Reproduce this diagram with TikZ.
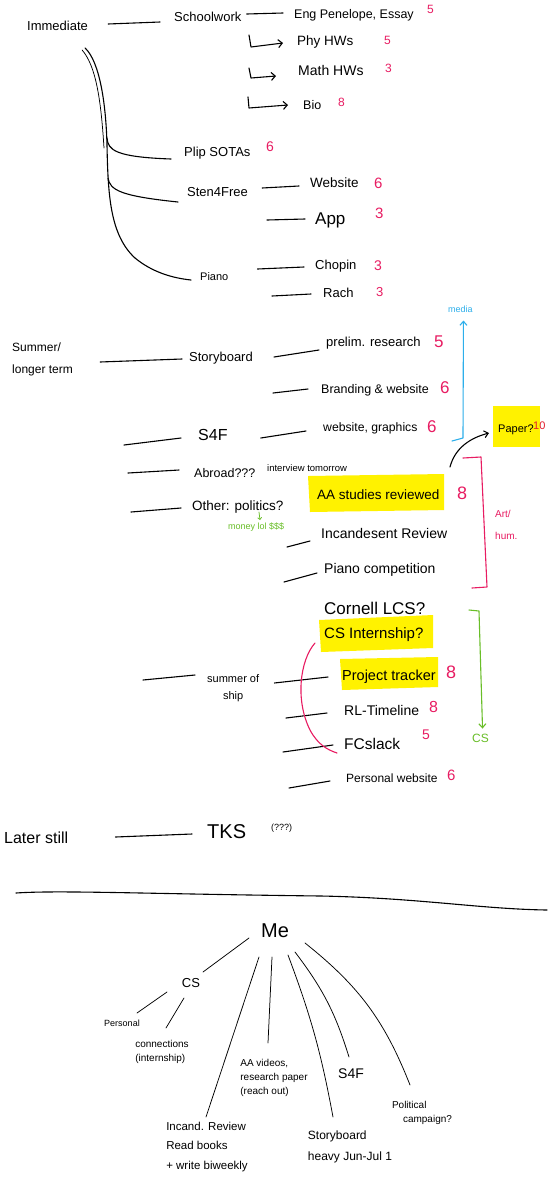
\documentclass[tikz,border=0pt]{standalone}
\usepackage{fontspec}
\setmainfont{Liberation Sans}
\usetikzlibrary{arrows.meta}
\definecolor{pk}{RGB}{232,28,98}
\definecolor{rd}{RGB}{226,30,45}
\definecolor{bl}{RGB}{45,175,235}
\definecolor{gr}{RGB}{105,190,40}
\definecolor{hl}{RGB}{255,242,0}
\begin{document}
\begin{tikzpicture}[x=1pt,y=-1pt,
  tx/.style={anchor=west,inner sep=0pt,font=\fontsize{#1}{#1}\selectfont},
  tx/.default=13,
  ct/.style={anchor=center,inner sep=0pt,font=\fontsize{#1}{#1}\selectfont},
  nm/.style={anchor=west,inner sep=0pt,text=pk,font=\fontsize{#1}{#1}\selectfont},
  nm/.default=14,
  lnk/.style={line width=1.1pt,line cap=round,line join=round},
  thn/.style={line width=0.75pt,line cap=round,line join=round},
  hk/.style={lnk,-{Straight Barb[length=4pt,width=8pt]}},
  hlb/.style={fill=hl}]
\useasboundingbox (0,0) rectangle (556,1200);
\fill[white] (0,0) rectangle (556,1200);

% ---------------- Immediate ----------------
\node[tx=13] (imm) at (27,26) {Immediate};
\node[tx=13] (school) at (174,17) {Schoolwork};
\node[tx=12.5] (eng) at (294,15) {Eng Penelope, Essay};
\node[nm=12] (n1) at (427,9) {5};
\node[tx=13.5] (phy) at (297,42) {Phy HWs};
\node[nm=12] (n2) at (384,40) {5};
\node[tx=14] (math) at (298,70) {Math HWs};
\node[nm=12] (n3) at (385,68) {3};
\node[tx=12.5] (bio) at (303,105) {Bio};
\node[nm=12] (n4) at (338,102) {8};
\node[tx=13] (plip) at (184,153) {Plip SOTAs};
\node[nm=14] (n5) at (266,147) {6};
\node[tx=13] (sten) at (187,192) {Sten4Free};
\node[tx=13.5] (web1) at (310,183) {Website};
\node[nm=15] (n6) at (374,183) {6};
\node[tx=17] (app) at (315,220) {App};
\node[nm=15] (n7) at (375,213) {3};
\node[tx=11] (piano) at (200,277) {Piano};
\node[tx=13] (chopin) at (315,266) {Chopin};
\node[nm=14] (n8) at (374,266) {3};
\node[tx=13] (rach) at (323,293) {Rach};
\node[nm=13] (n9) at (376,292) {3};

\draw[lnk] ([shift={(20,-2)}]imm.east) -- ([shift={(-14,5)}]school.west);
\draw[lnk] ([shift={(5,-3)}]school.east) -- ([shift={(-11,-2)}]eng.west);
\draw[hk] ([shift={(-48,-7)}]phy.west) -- ([shift={(-46,5)}]phy.west) -- ([shift={(-14,1)}]phy.west);
\draw[hk] ([shift={(-49,-2)}]math.west) -- ([shift={(-47,8)}]math.west) -- ([shift={(-22,6)}]math.west);
\draw[hk] ([shift={(-55,-8)}]bio.west) -- ([shift={(-54,3)}]bio.west) -- ([shift={(-15,0)}]bio.west);
\draw[lnk] ([shift={(14,-4)}]sten.east) -- ([shift={(-11,3)}]web1.west);
\draw[lnk] ([shift={(-48,0)}]app.west) -- ([shift={(-10,-1)}]app.west);
\draw[lnk] ([shift={(29,-8)}]piano.east) -- ([shift={(-11,1)}]chopin.west);
\draw[lnk] ([shift={(-51,3)}]rach.west) -- ([shift={(-12,1)}]rach.west);

% trunk from Immediate
\draw[lnk] ([shift={(-3,22)}]imm.east) .. controls (100,62) and (106,105) .. (107,145)
  .. controls (108,195) and (110,235) .. (135,258)
  .. controls (152,272) and (172,278) .. ([shift={(-9,3)}]piano.west);
\draw[thn] ([shift={(-6,24)}]imm.east) .. controls (96,66) and (101,100) .. (104,148);
\draw[lnk] (107,138) .. controls (108,150) and (115,157) .. ([shift={(-13,6)}]plip.west);
\draw[lnk] (108,178) .. controls (110,190) and (120,196) .. ([shift={(-9,10)}]sten.west);

% ---------------- Summer / longer term ----------------
\node[tx=12,font=\fontsize{12}{22}\selectfont,align=left] (summer) at (12,359) {Summer/\\longer term};
\node[tx=13] (story) at (189,358) {Storyboard};
\node[tx=13] (prelim) at (326,343) {prelim. research};
\node[nm=17] (n10) at (434,342) {5};
\node[tx=12.5] (brand) at (321,390) {Branding \& website};
\node[nm=17] (n11) at (440,388) {6};
\node[tx=16] (s4f) at (198,435) {S4F};
\node[tx=12.2] (webg) at (323,428) {website, graphics};
\node[nm=17] (n12) at (427,427) {6};
\node[tx=12.5] (abroad) at (194,473) {Abroad???};
\node[tx=9.5] (interv) at (267,468) {interview tomorrow};
\node[tx=13.5] (other) at (192,507) {Other: politics?};
\node[tx=9,text=gr] (money) at (228,527) {money lol \$\$\$};
\fill[hlb] (308,476) -- (444,474) -- (444,510) -- (310,512) -- cycle;
\node[tx=13.5] (aa) at (317,495) {AA studies reviewed};
\node[nm=18] (n13) at (457,493) {8};
\node[tx=14] (incand) at (321,533) {Incandesent Review};
\node[tx=14] (pcomp) at (324,570) {Piano competition};
\fill[hlb] (493,406) rectangle (540,447);
\node[tx=11] (paper) at (498,430) {Paper?};
\node[nm=11,text=rd] (n14) at (533,426) {10};
\node[tx=9,text=bl] (media) at (448,309) {media};
\node[tx=10,text=pk,font=\fontsize{10}{22}\selectfont,align=left] (arthum) at (495,525) {Art/\\hum.};

\draw[lnk] ([shift={(27,3)}]summer.east) -- ([shift={(-7,1)}]story.west);
\draw[lnk] ([shift={(21,-1)}]story.east) -- ([shift={(-7,7)}]prelim.west);
\draw[lnk] ([shift={(-48,3)}]brand.west) -- ([shift={(-13,-1)}]brand.west);
\draw[lnk] ([shift={(-74,10)}]s4f.west) -- ([shift={(-17,3)}]s4f.west);
\draw[lnk] ([shift={(33,3)}]s4f.east) -- ([shift={(-17,3)}]webg.west);
\draw[lnk] ([shift={(-66,0)}]abroad.west) -- ([shift={(-15,-3)}]abroad.west);
\draw[lnk] ([shift={(-61,5)}]other.west) -- ([shift={(-11,1)}]other.west);
\draw[thn,gr,-{Straight Barb[length=2pt,width=4pt]}] (259,512) -- (260,520);
\draw[lnk] ([shift={(-34,14)}]incand.west) -- ([shift={(-11,8)}]incand.west);
\draw[lnk] ([shift={(-40,12)}]pcomp.west) -- ([shift={(-7,3)}]pcomp.west);

\draw[lnk,bl,-{Straight Barb[length=4pt,width=7pt]}] (452,441) -- (463,438) -- ([shift={(3,8)}]media.south);
\draw[lnk,-{Straight Barb[length=4pt,width=7pt]}] (450,467) .. controls (455,448) and (470,438) .. ([shift={(-9,3)}]paper.west);
\draw[lnk,pk] (463,458) -- (481,457) -- (487,587) -- (472,588);

% ---------------- CS part ----------------
\node[tx=17] (cornell) at (324,608) {Cornell LCS?};
\fill[hlb] (319,620) -- (433,615) -- (433,648) -- (321,652) -- cycle;
\node[tx=15] (csint) at (324,635) {CS Internship?};
\node[tx=11,font=\fontsize{11}{17}\selectfont,align=center] (sos) at (207,688) {summer of\\ship};
\fill[hlb] (340,659) -- (438,657) -- (438,687) -- (342,690) -- cycle;
\node[tx=14.5] (ptrack) at (342,677) {Project tracker};
\node[nm=18] (n15) at (446,672) {8};
\node[tx=14] (rl) at (344,710) {RL-Timeline};
\node[nm=16] (n16) at (429,707) {8};
\node[tx=15.5] (fc) at (344,744) {FCslack};
\node[nm=14] (n17) at (422,735) {5};
\node[tx=12] (pweb) at (346,778) {Personal website};
\node[nm=15] (n18) at (447,775) {6};
\node[tx=12,text=gr] (csg) at (472,738) {CS};

\draw[lnk] ([shift={(-64,-8)}]sos.west) -- ([shift={(-12,-13)}]sos.west);
\draw[lnk] ([shift={(15,-5)}]sos.east) -- ([shift={(-14,0)}]ptrack.west);
\draw[lnk] ([shift={(-58,8)}]rl.west) -- ([shift={(-17,3)}]rl.west);
\draw[lnk] ([shift={(-61,8)}]fc.west) -- ([shift={(-11,1)}]fc.west);
\draw[lnk] ([shift={(-57,10)}]pweb.west) -- ([shift={(-16,3)}]pweb.west);
\draw[lnk,pk] (315,643) .. controls (300,660) and (295,700) .. (310,730) .. controls (318,745) and (328,750) .. (337,753);
\draw[lnk,gr,-{Straight Barb[length=4pt,width=7pt]}] (469,610) -- (479,611) -- ([shift={(2,-5)}]csg.north);

% ---------------- Later still ----------------
\node[tx=16] (later) at (4,838) {Later still};
\node[tx=20] (tks) at (207,832) {TKS};
\node[tx=9] (qq) at (271,828) {(???)};
\draw[lnk] ([shift={(47,-1)}]later.east) -- ([shift={(-15,2)}]tks.west);

% divider
\draw[lnk] (16,893) .. controls (60,890) and (150,894) .. (321,896) .. controls (420,898) and (480,909) .. (547,910);

% ---------------- Me ----------------
\node[ct=20] (me) at (275,931) {Me};
\node[ct=13] (cs) at (191,983) {CS};
\node[ct=9] (pers) at (122,1023) {Personal};
\node[ct=10,font=\fontsize{10}{14}\selectfont,align=left] (conn) at (162,1052) {connections\\(internship)};
\node[ct=11.5,font=\fontsize{11.5}{19.5}\selectfont,align=left] (incr) at (207,1147) {Incand. Review\\Read books\\+ write biweekly};
\node[ct=10,font=\fontsize{10}{14}\selectfont,align=left] (aav) at (274,1078) {AA videos,\\research paper\\(reach out)};
\node[ct=14] (s4fb) at (351,1074) {S4F};
\node[ct=12,font=\fontsize{12}{21}\selectfont,align=left] (sbh) at (350,1147) {Storyboard\\heavy Jun-Jul 1};
\node[ct=10,font=\fontsize{10}{14}\selectfont,align=left] (pol) at (422,1113) {Political\\\hspace*{11pt}campaign?};

\draw[thn] ([shift={(-26,7)}]me.center) -- ([shift={(12,-11)}]cs.center);
\draw[thn] ([shift={(-24,9)}]cs.center) -- ([shift={(15,-10)}]pers.center);
\draw[thn] ([shift={(-7,15)}]cs.center) -- ([shift={(4,-24)}]conn.center);
\draw[thn] ([shift={(-16,26)}]me.center) -- ([shift={(-1,-30)}]incr.center);
\draw[thn] ([shift={(-3,26)}]me.center) -- ([shift={(-6,-35)}]aav.center);
\draw[thn] ([shift={(13,24)}]me.center) to[bend left=5] ([shift={(-17,-30)}]sbh.center);
\draw[thn] ([shift={(20,21)}]me.center) to[bend left=10] ([shift={(-2,-17)}]s4fb.center);
\draw[thn] ([shift={(30,12)}]me.center) to[bend left=15] ([shift={(-12,-28)}]pol.center);
\end{tikzpicture}
\end{document}
